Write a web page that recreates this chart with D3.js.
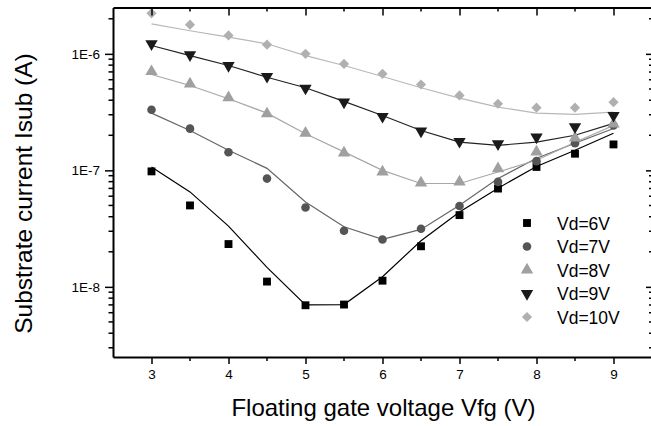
<!DOCTYPE html>
<html>
<head>
<meta charset="utf-8">
<script src="https://cdn.jsdelivr.net/npm/d3@7"></script>
<style>
  body { margin: 0; background: #fff; }
  svg { display: block; font-family: Arial, 'Liberation Sans', sans-serif; }
  .domain { stroke-width: 2px; }
  .tick line { stroke-width: 1.5px; }
</style>
</head>
<body>
<div id="chart"></div>
<script>
const vfg = [3, 3.5, 4, 4.5, 5, 5.5, 6, 6.5, 7, 7.5, 8, 8.5, 9]
const seriesNames = ['Vd=6V', 'Vd=7V', 'Vd=8V', 'Vd=9V', 'Vd=10V']

// measured points
const vd6 = [9.8e-8, 5.0e-8, 2.33e-8, 1.11e-8, 6.95e-9, 7.05e-9, 1.13e-8, 2.23e-8, 4.13e-8, 6.98e-8, 1.07e-7, 1.39e-7, 1.67e-7]
const vd7 = [3.31e-7, 2.28e-7, 1.43e-7, 8.5e-8, 4.8e-8, 3.03e-8, 2.55e-8, 3.15e-8, 4.95e-8, 7.96e-8, 1.2e-7, 1.71e-7, 2.43e-7]
const vd8 = [7.05e-7, 5.53e-7, 4.2e-7, 3.06e-7, 2.09e-7, 1.41e-7, 9.7e-8, 7.8e-8, 7.96e-8, 1.035e-7, 1.44e-7, 1.9e-7, 2.5e-7]
const vd9 = [1.22e-6, 9.8e-7, 7.94e-7, 6.4e-7, 5.07e-7, 3.86e-7, 2.9e-7, 2.17e-7, 1.77e-7, 1.69e-7, 1.93e-7, 2.36e-7, 2.96e-7]
const vd10 = [2.23e-6, 1.78e-6, 1.44e-6, 1.2e-6, 1.0e-6, 8.2e-7, 6.74e-7, 5.46e-7, 4.4e-7, 3.73e-7, 3.45e-7, 3.45e-7, 3.85e-7]

// fitted curves
const fit6 = [1.07e-7, 6.53e-8, 3.32e-8, 1.47e-8, 7.0e-9, 7.05e-9, 1.22e-8, 2.49e-8, 4.4e-8, 7.03e-8, 1.08e-7, 1.49e-7, 2.08e-7]
const fit7 = [3.1e-7, 2.2e-7, 1.49e-7, 1.04e-7, 5.36e-8, 3.28e-8, 2.56e-8, 3.11e-8, 5.02e-8, 8.51e-8, 1.27e-7, 1.71e-7, 2.29e-7]
const fit8 = [6.65e-7, 5.35e-7, 4.12e-7, 3.1e-7, 2.06e-7, 1.44e-7, 1.0e-7, 7.71e-8, 7.71e-8, 9.69e-8, 1.22e-7, 1.74e-7, 2.43e-7]
const fit9 = [1.18e-6, 9.67e-7, 7.94e-7, 6.3e-7, 5.12e-7, 3.91e-7, 2.96e-7, 2.2e-7, 1.75e-7, 1.64e-7, 1.75e-7, 2.0e-7, 2.53e-7]
const fit10 = [1.81e-6, 1.58e-6, 1.39e-6, 1.22e-6, 9.67e-7, 7.94e-7, 6.39e-7, 5.12e-7, 4.17e-7, 3.49e-7, 3.1e-7, 3.02e-7, 3.16e-7]

const xTicks = [3, 4, 5, 6, 7, 8, 9]
const yTicks = [1e-8, 1e-7, 1e-6]
const yTickLabels = ['1E-8', '1E-7', '1E-6']

const w = 651
const h = 426
const plotLeft = 113
const plotRight = 652
const plotTop = 7.5
const plotBottom = 357

const xScale = d3.scaleLinear().domain([2.5, 9.5]).range([plotLeft, plotRight])
const yScale = d3.scaleLog().domain([2.5e-9, 2.5e-6]).range([plotBottom, plotTop])

const svg = d3.select('#chart').append('svg').attr('width', w).attr('height', h)

const styles = [
  { sym: d3.symbolSquare, size: 62, fill: '#000', line: '#000', rot: 0 },
  { sym: d3.symbolCircle, size: 58, fill: '#555', line: '#666', rot: 0 },
  { sym: d3.symbolTriangle, size: 66, fill: '#a0a0a0', line: '#a8a8a8', rot: 0 },
  { sym: d3.symbolTriangle, size: 66, fill: '#1a1a1a', line: '#222', rot: 180 },
  { sym: d3.symbolSquare, size: 52, fill: '#b0b0b0', line: '#b8b8b8', rot: 45 }
]
const points = [vd6, vd7, vd8, vd9, vd10]
const fits = [fit6, fit7, fit8, fit9, fit10]

// minor tick values for log axis
const minor = []
for (let e = -9; e <= -6; e++) {
  for (let m = 2; m <= 9; m++) {
    const v = m * Math.pow(10, e)
    if (v >= 2.5e-9 && v <= 2.5e-6) minor.push(v)
  }
}
const xMinor = [3.5, 4.5, 5.5, 6.5, 7.5, 8.5]

// fit lines
const line = d3.line().x((d, i) => xScale(vfg[i])).y((d) => yScale(d))
fits.forEach((f, k) => {
  svg.append('path')
    .datum(f)
    .attr('d', line)
    .attr('fill', 'none')
    .attr('stroke', styles[k].line)
    .attr('stroke-width', 1.2)
})

// markers
points.forEach((p, k) => {
  const s = styles[k]
  svg.append('g')
    .selectAll('path')
    .data(p)
    .join('path')
    .attr('d', d3.symbol().type(s.sym).size(s.size))
    .attr('transform', (d, i) => 'translate(' + xScale(vfg[i]) + ',' + yScale(d) + ') rotate(' + s.rot + ')')
    .attr('fill', s.fill)
})

// axes
const bottomAxis = d3.axisBottom(xScale).tickValues(xTicks).tickSize(7).tickPadding(5)
  .tickFormat(d3.format('d')).tickSizeOuter(0)
const gb = svg.append('g').attr('transform', 'translate(0,' + plotBottom + ')').call(bottomAxis)
gb.selectAll('text').attr('font-size', 13.5).attr('fill', '#000').attr('font-family', 'Arial, Liberation Sans')
gb.selectAll('.xminor').data(xMinor).join('line')
  .attr('x1', (d) => xScale(d)).attr('x2', (d) => xScale(d))
  .attr('y1', 0).attr('y2', 4).attr('stroke', '#000').attr('stroke-width', 1.5)

const topAxis = d3.axisBottom(xScale).tickValues(xTicks).tickSize(8).tickFormat('').tickSizeOuter(0)
const gt = svg.append('g').attr('transform', 'translate(0,' + plotTop + ')').call(topAxis)
gt.selectAll('.xminor').data(xMinor).join('line')
  .attr('x1', (d) => xScale(d)).attr('x2', (d) => xScale(d))
  .attr('y1', 0).attr('y2', 4).attr('stroke', '#000').attr('stroke-width', 1.5)

const leftAxis = d3.axisLeft(yScale).tickValues(yTicks).tickSize(8).tickPadding(5)
  .tickFormat((d, i) => yTickLabels[i]).tickSizeOuter(0)
const gl = svg.append('g').attr('transform', 'translate(' + plotLeft + ',0)').call(leftAxis)
gl.selectAll('text').attr('font-size', 13.5).attr('fill', '#000').attr('font-family', 'Arial, Liberation Sans')
gl.selectAll('.yminor').data(minor).join('line')
  .attr('x1', 0).attr('x2', -4.5)
  .attr('y1', (d) => yScale(d)).attr('y2', (d) => yScale(d))
  .attr('stroke', '#000').attr('stroke-width', 1.5)

const rightAxis = d3.axisLeft(yScale).tickValues(yTicks).tickSize(6).tickFormat('').tickSizeOuter(0)
const gr = svg.append('g').attr('transform', 'translate(' + plotRight + ',0)').call(rightAxis)
gr.selectAll('.yminor').data(minor).join('line')
  .attr('x1', 0).attr('x2', -3)
  .attr('y1', (d) => yScale(d)).attr('y2', (d) => yScale(d))
  .attr('stroke', '#000').attr('stroke-width', 1.5)

// axis titles
svg.append('text')
  .text('Floating gate voltage Vfg (V)')
  .attr('x', 383.5)
  .attr('y', 416)
  .attr('text-anchor', 'middle')
  .attr('font-size', 24)

svg.append('text')
  .text('Substrate current Isub (A)')
  .attr('transform', 'translate(32,193.5) rotate(-90)')
  .attr('text-anchor', 'middle')
  .attr('font-size', 24.5)

// legend
const legend = svg.append('g').attr('transform', 'translate(527,223)')
seriesNames.forEach((name, k) => {
  const s = styles[k]
  const y = k * 23.5
  legend.append('path')
    .attr('d', d3.symbol().type(s.sym).size(s.size))
    .attr('transform', 'translate(0,' + y + ') rotate(' + s.rot + ')')
    .attr('fill', s.fill)
  legend.append('text')
    .text(name)
    .attr('x', 30)
    .attr('y', y + 6.5)
    .attr('font-size', 17.5)
})
</script>
</body>
</html>
